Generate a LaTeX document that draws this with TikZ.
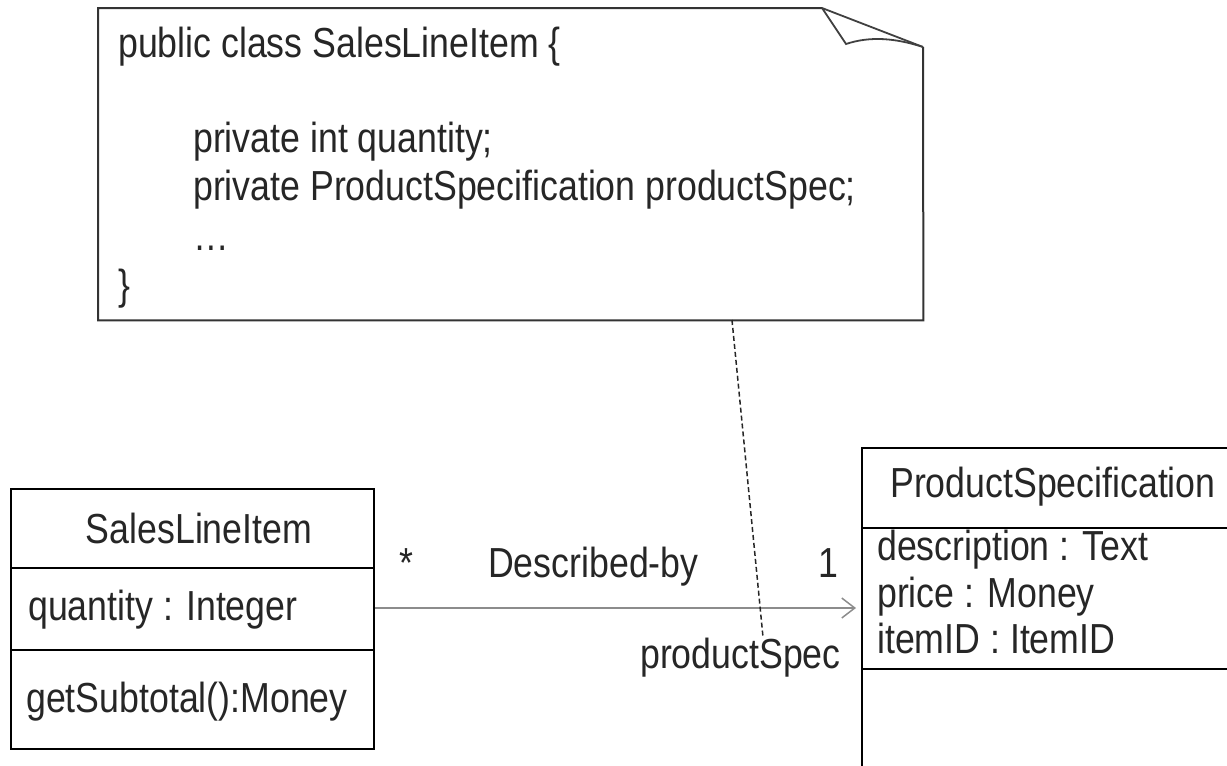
\documentclass[tikz,border=0pt]{standalone}
\usepackage{fontspec}
\setmainfont{Liberation Sans}[FakeStretch=0.85]
\usetikzlibrary{arrows.meta}
\begin{document}
\begin{tikzpicture}[x=1pt,y=-1pt,
  txt/.style={inner sep=0pt, anchor=base west, font=\fontsize{42}{48}\selectfont, text=black!85},
  ctxt/.style={inner sep=0pt, anchor=base, font=\fontsize{42}{48}\selectfont, text=black!85},
  umlbox/.style={draw=black, line width=2pt, inner sep=0pt, anchor=north west},
  sepline/.style={draw=black, line width=2pt},
  noteline/.style={draw=black!80, line width=2pt, line join=miter},
  foldline/.style={draw=black!75, line width=1.8pt},
  assoc/.style={draw=black!45, line width=1.5pt, -{Straight Barb[length=13pt, width=20pt, line width=1.5pt]}},
  anchorline/.style={draw=black!85, line width=1.5pt, dash pattern=on 5pt off 3pt}]
\useasboundingbox (0,0) rectangle (1227,766);
\clip (0,0) rectangle (1227,766);

% ---------- note ----------
\node[inner sep=0pt, minimum width=825pt, minimum height=312pt, anchor=north west] (note) at (98,8) {};
\coordinate (fa) at (822,8);
\coordinate (fb) at (923,47);
\coordinate (fc) at (846,44);
\draw[noteline] (fa) -- (note.north west) -- (note.south west) -- (note.south east) -- (fb);
\draw[foldline] (fa) -- (fb);
\draw[foldline] (fa) -- (fc) .. controls (870,36) and (895,38) .. (fb);

\node[txt] (n1) at (118,57) {public class SalesLineItem \{};
\node[txt] (n2) at (193,152) {private int quantity;};
\node[txt] (n3) at (193,200) {private ProductSpecification productSpec;};
\node[txt] (n4) at (193,250) {…};
\node[txt] (n5) at (118,299) {\}};

% ---------- SalesLineItem ----------
\node[umlbox, minimum width=363pt, minimum height=260pt] (sli) at (10,488) {};
\draw[sepline] (10,568) -- (373,568);
\draw[sepline] (10,650) -- (373,650);
\node[ctxt] (sliname) at (199,543) {SalesLineItem};
\node[txt] (sliattr) at (28,620) {quantity : Integer};
\node[txt] (sliop) at (26,712) {getSubtotal():Money};

% ---------- ProductSpecification ----------
\node[umlbox, minimum width=400pt, minimum height=340pt] (ps) at (861,447) {};
\draw[sepline] (861,528) -- (1261,528);
\draw[sepline] (861,669) -- (1261,669);
\node[txt] (psname) at (890,497) {ProductSpecification};
\node[txt] (psa1) at (877,560) {description : Text};
\node[txt] (psa2) at (877,607) {price : Money};
\node[txt] (psa3) at (877,653) {itemID : ItemID};

% ---------- association ----------
\coordinate (as) at (sli.east |- 0,608);
\coordinate (ae) at (856,608);
\draw[assoc] (as) -- (ae);
\node[txt] (star) at (399,577) {*};
\node[txt] (assocname) at (488,577) {Described-by};
\node[txt] (one) at (818,577) {1};
\node[txt] (role) at (640,668) {productSpec};

% ---------- note anchor ----------
\coordinate (na) at (732,320);
\coordinate (nb) at (763,637);
\draw[anchorline] (na) -- (nb);
\end{tikzpicture}
\end{document}
